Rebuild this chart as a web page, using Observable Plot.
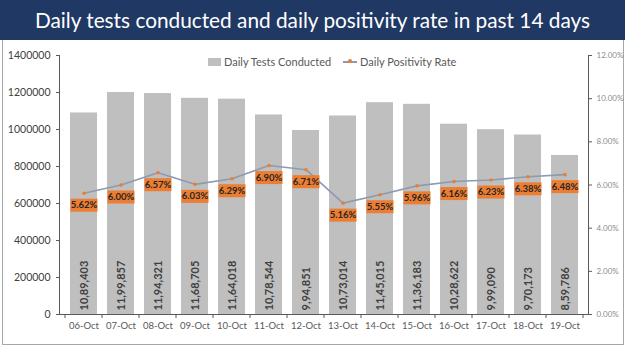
<!DOCTYPE html>
<html>
<head>
<meta charset="utf-8">
<script src="https://cdn.jsdelivr.net/npm/d3@7"></script>
<script src="https://cdn.jsdelivr.net/npm/@observablehq/plot@0.6"></script>
<style>
  body { margin: 0; background: #ffffff; font-family: Lato, "Liberation Sans", sans-serif; }
  #wrap { position: relative; width: 625px; height: 351px; overflow: hidden; background: #fff; }
  #title { position: absolute; left: 0; top: 0; width: 625px; height: 40px; background: #203864;
           color: #fff; font-family: Lato, sans-serif; font-size: 20.8px; line-height: 40px; text-align: center; }
  #panel { position: absolute; left: 2px; top: 40px; width: 620px; height: 304px;
           border-left: 1px solid #a6a6a6; border-right: 1px solid #a6a6a6; border-bottom: 1px solid #a6a6a6; }
  #chart { position: absolute; left: 0; top: 40px; }
  #legend { position: absolute; top: 55px; left: 208px; font-size: 11px; color: #595959; display: flex; align-items: center; white-space: nowrap; }
  .sw { display: inline-block; width: 13px; height: 8px; background: #bfbfbf; margin-right: 3px; }
  .ln { display: inline-block; position: relative; width: 14px; height: 2px; background: #8c9bb0; margin: 0 3px 0 12px; }
  .ln::after { content: ""; position: absolute; left: 5px; top: -1.5px; width: 4px; height: 4px; border-radius: 2px; background: #ED7D31; }
</style>
</head>
<body>
<div id="wrap">
  <div id="title">Daily tests conducted and daily positivity rate in past 14 days</div>
  <div id="panel"></div>
  <div id="chart"></div>
  <div id="legend"><span class="sw"></span>Daily Tests Conducted<span class="ln"></span>Daily Positivity Rate</div>
</div>
<script>
const dates = ["06-Oct","07-Oct","08-Oct","09-Oct","10-Oct","11-Oct","12-Oct","13-Oct","14-Oct","15-Oct","16-Oct","17-Oct","18-Oct","19-Oct"];
const tests = [1089403, 1199857, 1194321, 1168705, 1164018, 1078544, 994851, 1073014, 1145015, 1136183, 1028622, 999090, 970173, 859786];
const rates = [5.62, 6.00, 6.57, 6.03, 6.29, 6.90, 6.71, 5.16, 5.55, 5.96, 6.16, 6.23, 6.38, 6.48];
const leftTicks = [0, 200000, 400000, 600000, 800000, 1000000, 1200000, 1400000];
const rightTicks = [0, 2, 4, 6, 8, 10, 12];

const yMax = 1400000, rMax = 12;
const toY = r => r / rMax * yMax;
const data = dates.map((d, i) => ({date: d, tests: tests[i], rate: rates[i]}));
const fmtIN = new Intl.NumberFormat("en-IN");

const boxSymbol = {draw(ctx) { ctx.rect(-13.5, -6.5, 27, 13); }};

const betweenTicks = (index, scales, values, dims) => {
  const g = d3.create("svg:g");
  const x = scales.x;
  const step = x(dates[1]) - x(dates[0]);
  const bw = (scales.scales && scales.scales.x && scales.scales.x.bandwidth) || 0;
  const y0 = dims.height - dims.marginBottom;
  for (let i = 0; i <= dates.length; i++) {
    const start = i < dates.length ? x(dates[i]) : x(dates[dates.length - 1]) + step;
    const px = start - (step - bw) / 2;
    g.append("line").attr("x1", px).attr("x2", px).attr("y1", y0).attr("y2", y0 + 4).attr("stroke", "#595959");
  }
  return g.node();
};

const plot = Plot.plot({
  width: 625,
  height: 311,
  marginTop: 15,
  marginBottom: 37,
  marginLeft: 59,
  marginRight: 37,
  style: {fontFamily: "Lato, 'Liberation Sans', sans-serif", background: "transparent"},
  x: {domain: dates, padding: 0.28, axis: null, label: null},
  y: {domain: [0, yMax], axis: null, label: null},
  marks: [
    Plot.barY(data, {x: "date", y: "tests", fill: "#bfbfbf"}),
    Plot.text(data, {x: "date", y: 0, text: d => fmtIN.format(d.tests), rotate: -90, textAnchor: "start", dy: -4,
      fontSize: 11, fontWeight: "bold", fill: "#404040"}),
    Plot.line(data, {x: "date", y: d => toY(d.rate), stroke: "#8c9bb0", strokeWidth: 1.6}),
    Plot.dot(data, {x: "date", y: d => toY(d.rate), r: 1.8, fill: "#ED7D31"}),
    Plot.dot(data, {x: "date", y: d => toY(d.rate), dy: 12, symbol: boxSymbol, fill: "#ED7D31", stroke: "none"}),
    Plot.text(data, {x: "date", y: d => toY(d.rate), dy: 12, text: d => d.rate.toFixed(2) + "%",
      fontSize: 9.5, fontWeight: "bold", fill: "#262626"}),
    Plot.axisY({ticks: leftTicks, tickFormat: d => String(d), anchor: "left", tickSize: 3, tickPadding: 6,
      fontSize: 10.5, color: "#404040", stroke: "#595959", label: null}),
    Plot.axisY({ticks: rightTicks.map(toY), tickFormat: v => (v / yMax * rMax).toFixed(2) + "%", anchor: "right",
      tickSize: 3, tickPadding: 5, fontSize: 8, color: "#8c8c8c", stroke: "#595959", label: null}),
    Plot.axisX({tickSize: 0, tickPadding: 8, fontSize: 9.5, color: "#595959", label: null}),
    Plot.frame({anchor: "left", stroke: "#595959"}),
    Plot.frame({anchor: "right", stroke: "#595959"}),
    Plot.frame({anchor: "bottom", stroke: "#595959"}),
    betweenTicks
  ]
});
document.getElementById("chart").appendChild(plot);
</script>
</body>
</html>
